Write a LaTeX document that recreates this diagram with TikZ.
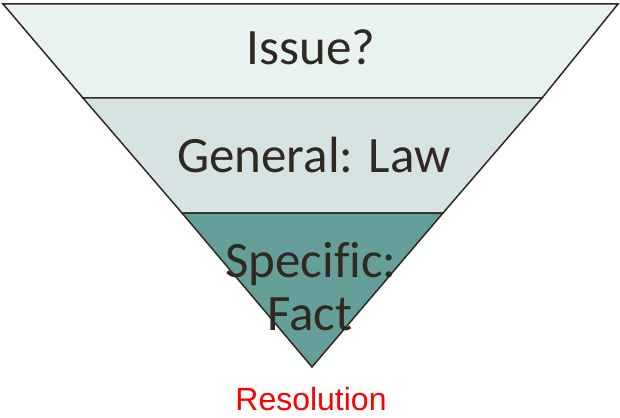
\documentclass[tikz,border=0pt]{standalone}
\usepackage{fontspec}
\setmainfont{Carlito}[Ligatures=NoCommon]
\newfontfamily\arialfont{Liberation Sans}
\definecolor{bandA}{HTML}{E8F2F1}
\definecolor{bandB}{HTML}{D5E3E2}
\definecolor{bandC}{HTML}{669E9A}
\definecolor{edgec}{HTML}{2E2A22}
\definecolor{txtc}{HTML}{2E2A22}
\begin{document}
\begin{tikzpicture}[x=1pt,y=-1pt,
  band/.style={draw=edgec,line width=1.5pt,line join=miter},
  lbl/.style={anchor=base,inner sep=0pt,text=txtc,font=\fontsize{51}{55}\selectfont}]
\useasboundingbox (0,0) rectangle (620,417);
% coordinates
\coordinate (tl) at (3,4);
\coordinate (tr) at (618,4);
\coordinate (ml) at (83,98);
\coordinate (mr) at (542,98);
\coordinate (ll) at (182,213);
\coordinate (lr) at (443,213);
\coordinate (ap) at (312,367);
\path[band,fill=bandA] (tl) -- (tr) -- (mr) -- (ml) -- cycle;
\path[band,fill=bandB] (ml) -- (mr) -- (lr) -- (ll) -- cycle;
\path[band,fill=bandC] (ll) -- (lr) -- (ap) -- cycle;
\node[lbl] (issue) at (311,65) {Issue?};
\node[lbl] (general) at (314,172) {General: Law};
\node[lbl] (specific) at (311,277) {Specific:};
\node[lbl] (fact) at (310,330) {Fact};
\node[anchor=base,inner sep=0pt,text depth=0pt,text=red,font=\arialfont\fontsize{32}{34}\selectfont] (res) at (311,410) {Resolution};
\end{tikzpicture}
\end{document}
